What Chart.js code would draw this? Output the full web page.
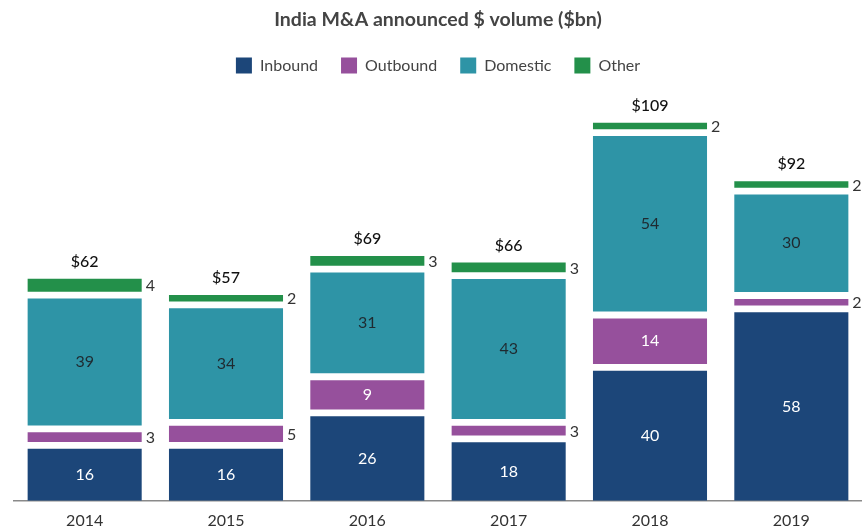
<!DOCTYPE html>
<html>
<head>
<meta charset="utf-8">
<script src="https://cdn.jsdelivr.net/npm/chart.js@4"></script>
<style>
  html, body { margin: 0; padding: 0; background: #ffffff; }
  #wrap { width: 862px; height: 531px; }
</style>
</head>
<body>
<div id="wrap"><canvas id="c" width="862" height="531"></canvas></div>
<script>
const categories = ['2014', '2015', '2016', '2017', '2018', '2019'];
const seriesNames = ['Inbound', 'Outbound', 'Domestic', 'Other'];
const inbound  = [16, 16, 26, 18, 40, 58];
const outbound = [3, 5, 9, 3, 14, 2];
const domestic = [39, 34, 31, 43, 54, 30];
const other    = [4, 2, 3, 3, 2, 2];
const totals   = [62, 57, 69, 66, 109, 92];

const seriesValues = [inbound, outbound, domestic, other];
const colors = ['#1c4679', '#96509c', '#2e94a6', '#23904a'];
const insideLabelColors = ['#ffffff', '#ffffff', '#1f2a30', '#1f2a30'];
const GAP = 2.1; // visual white gap between stacked segments, in value units
const FONT = 'Lato, "Open Sans", sans-serif';

// build floating ranges so segments are separated by white gaps
const ranges = seriesValues.map(() => []);
categories.forEach((c, i) => {
  let cum = 0;
  seriesValues.forEach((vals, j) => {
    const lo = cum + j * GAP;
    ranges[j].push([lo, lo + vals[i]]);
    cum += vals[i];
  });
});

const labelPlugin = {
  id: 'segLabels',
  afterDatasetsDraw(chart) {
    const ctx = chart.ctx;
    ctx.save();
    ctx.textBaseline = 'middle';
    chart.data.datasets.forEach((ds, j) => {
      const meta = chart.getDatasetMeta(j);
      meta.data.forEach((el, i) => {
        const p = el.getProps(['x', 'y', 'base', 'width'], true);
        const top = Math.min(p.y, p.base), bot = Math.max(p.y, p.base);
        const h = bot - top;
        const txt = String(seriesValues[j][i]);
        ctx.font = '16px ' + FONT;
        if (j < 3 && h >= 22) {
          ctx.fillStyle = insideLabelColors[j];
          ctx.textAlign = 'center';
          ctx.fillText(txt, p.x, (top + bot) / 2);
        } else {
          ctx.fillStyle = '#333333';
          ctx.textAlign = 'left';
          ctx.fillText(txt, p.x + p.width / 2 + 4, (top + bot) / 2 + 1);
        }
        if (j === chart.data.datasets.length - 1) {
          ctx.font = '500 16px ' + FONT;
          ctx.fillStyle = '#111111';
          ctx.textAlign = 'center';
          ctx.fillText('$' + totals[i], p.x, top - 17);
        }
      });
    });
    ctx.restore();
  }
};

new Chart(document.getElementById('c'), {
  type: 'bar',
  data: {
    labels: categories,
    datasets: seriesNames.map((name, j) => ({
      label: name,
      data: ranges[j],
      backgroundColor: colors[j],
      borderWidth: 0,
      grouped: false,
      categoryPercentage: 1,
      barPercentage: 0.807
    }))
  },
  options: {
    responsive: false,
    animation: false,
    layout: { padding: { left: 14, right: 0, top: 0, bottom: -9 } },
    plugins: {
      title: {
        display: true,
        text: 'India M&A announced $ volume ($bn)',
        color: '#444444',
        font: { family: FONT, size: 19.5, weight: 'bold' },
        padding: { top: 8, bottom: 3 }
      },
      legend: {
        display: true,
        labels: {
          color: '#444444',
          font: { family: FONT, size: 16 },
          boxWidth: 16,
          boxHeight: 16,
          padding: 23
        }
      },
      tooltip: { enabled: false }
    },
    scales: {
      x: {
        grid: { display: false, drawTicks: false, tickLength: 0 },
        border: { display: true, color: '#8a8a8a', width: 1.5 },
        ticks: { color: '#333333', font: { family: FONT, size: 16 }, padding: 10 }
      },
      y: {
        display: false,
        min: 0,
        max: 128.4
      }
    }
  },
  plugins: [labelPlugin]
});
</script>
</body>
</html>
